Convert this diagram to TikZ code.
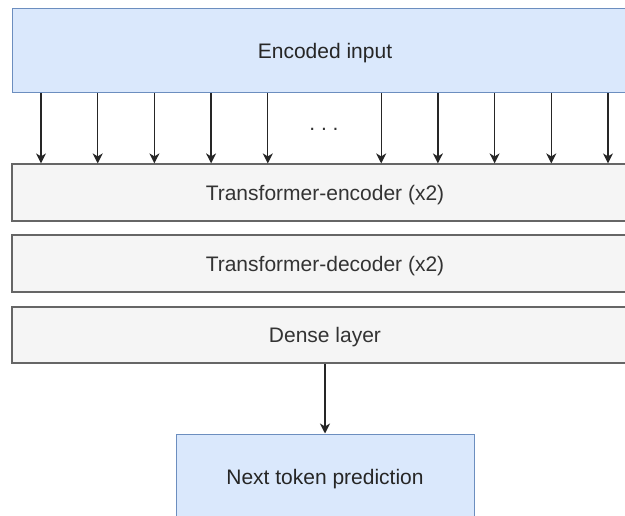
\documentclass[tikz,border=0pt]{standalone}
\usepackage{fontspec}
\setmainfont{Liberation Sans}
\usetikzlibrary{arrows.meta}
\definecolor{bluefill}{HTML}{DAE8FC}
\definecolor{bluedraw}{HTML}{6C8EBF}
\definecolor{grayfill}{HTML}{F5F5F5}
\definecolor{graydraw}{HTML}{666666}
\definecolor{graytext}{HTML}{333333}
\tikzset{
  bluebox/.style={draw=bluedraw, fill=bluefill, line width=1pt, inner sep=0pt, text depth=0pt, font=\fontsize{21}{25}\selectfont, text=black!85},
  graybox/.style={draw=graydraw, fill=grayfill, line width=1.2pt, inner sep=0pt, text depth=0pt, font=\fontsize{21}{25}\selectfont, text=graytext},
  arr/.style={draw=black!85, line width=1.3pt, -{Stealth[length=10pt,width=10pt,inset=3pt]}}
}
\begin{document}
\begin{tikzpicture}[x=1pt,y=-1pt]
\clip (0,0) rectangle (625,516);
\fill[white] (0,0) rectangle (625,516);
\node[bluebox, minimum width=626pt, minimum height=84pt] (enc) at (325,51) {Encoded input};
\node[graybox, minimum width=626pt, minimum height=57pt] (tenc) at (325,192.5) {Transformer-encoder (x2)};
\node[graybox, minimum width=626pt, minimum height=57pt] (tdec) at (325,263.5) {Transformer-decoder (x2)};
\node[graybox, minimum width=626pt, minimum height=56pt] (dense) at (325,335) {Dense layer};
\node[bluebox, minimum width=298pt, minimum height=86pt] (next) at (325,477) {Next token prediction};
\node[font=\fontsize{21}{25}\selectfont, text=graytext, inner sep=0pt, anchor=base] (dots) at (324,131) {.\ .\ .};
\foreach \i in {0,1,2,3,4,6,7,8,9,10}{
  \pgfmathsetmacro{\xx}{41+56.7*\i}
  \coordinate (s\i) at (\xx,0);
}
\foreach \i in {0,1,2,3,4,6,7,8,9,10}{
  \draw[arr] (enc.south -| s\i) -- (tenc.north -| s\i);
}
\draw[arr] (dense.south) -- (next.north);
\end{tikzpicture}
\end{document}
